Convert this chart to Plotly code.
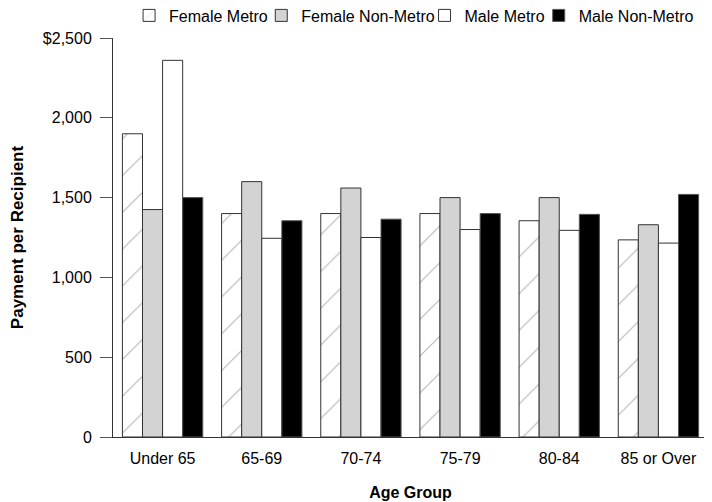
import plotly.graph_objects as go

categories = ["Under 65", "65-69", "70-74", "75-79", "80-84", "85 or Over"]
female_metro = [1900, 1400, 1400, 1400, 1355, 1235]
female_nonmetro = [1425, 1600, 1560, 1500, 1500, 1330]
male_metro = [2360, 1245, 1250, 1300, 1295, 1215]
male_nonmetro = [1500, 1355, 1365, 1400, 1395, 1520]
y_ticks = [0, 500, 1000, 1500, 2000, 2500]
y_tick_labels = ["0", "500", "1,000", "1,500", "2,000", "$2,500"]

font = "Liberation Sans, Arial, Helvetica, sans-serif"
outline = dict(color="#333333", width=1)

fig = go.Figure()
fig.add_trace(go.Bar(
    name="Female Metro", x=categories, y=female_metro, legend="legend",
    marker=dict(color="white", line=outline,
                pattern=dict(shape="/", fgcolor="#666666", bgcolor="white",
                             size=26, solidity=0.04)),
))
fig.add_trace(go.Bar(
    name="Female Non-Metro", x=categories, y=female_nonmetro, legend="legend2",
    marker=dict(color="#d3d3d3", line=outline),
))
fig.add_trace(go.Bar(
    name="Male Metro", x=categories, y=male_metro, legend="legend3",
    marker=dict(color="white", line=outline),
))
fig.add_trace(go.Bar(
    name="Male Non-Metro", x=categories, y=male_nonmetro, legend="legend4",
    marker=dict(color="black", line=dict(color="#555555", width=1)),
))

def leg(x):
    return dict(orientation="h", x=x, y=1.0564, xanchor="left", yanchor="middle",
                font=dict(size=16), itemwidth=30, bgcolor="rgba(0,0,0,0)",
                borderwidth=0)

fig.update_layout(
    width=704, height=494,
    margin=dict(l=105, r=4, t=30, b=65, autoexpand=False),
    paper_bgcolor="white", plot_bgcolor="white",
    barmode="group", bargap=0.19, bargroupgap=0,
    font=dict(family=font, size=16, color="black"),
    showlegend=True,
    legend=leg(0.027), legend2=leg(0.2492), legend3=leg(0.5236), legend4=leg(0.7155),
    xaxis=dict(showline=True, linecolor="#333333", linewidth=1, ticks="",
               showgrid=False, automargin=False, ticklabelstandoff=7,
               title=dict(text="<b>Age Group</b>", standoff=20, font=dict(size=16)),
               tickfont=dict(size=16)),
    yaxis=dict(range=[0, 2500], showline=True, linecolor="#333333", linewidth=1,
               ticks="outside", ticklen=12, tickcolor="#555555", showgrid=False,
               tickvals=y_ticks, ticktext=y_tick_labels, zeroline=False,
               automargin=False, ticklabelstandoff=5,
               title=dict(text="<b>Payment per Recipient</b>", standoff=21,
                          font=dict(size=17)),
               tickfont=dict(size=16)),
)
fig.write_html("out.html")
